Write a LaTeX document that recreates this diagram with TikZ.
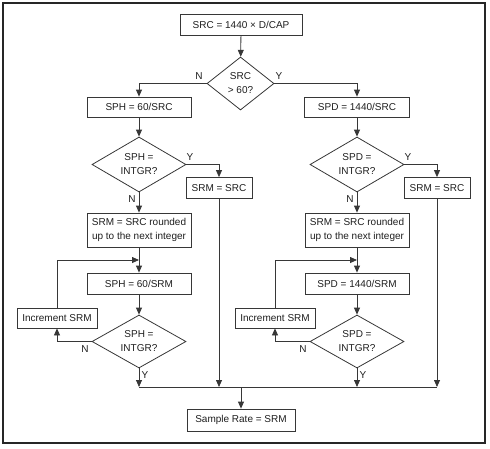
\documentclass[tikz,border=0pt]{standalone}
\usepackage{fontspec}
\setmainfont{Liberation Sans}
\usetikzlibrary{shapes.geometric,arrows.meta}
\definecolor{linec}{RGB}{55,55,55}
\definecolor{textc}{RGB}{30,30,30}
\begin{document}
\begin{tikzpicture}[x=1pt,y=-1pt,
  font=\fontsize{10}{14}\selectfont,
  procbox/.style={draw=linec, line width=0.8pt, inner sep=0pt, align=center, text=textc},
  decision/.style={diamond, draw=linec, line width=0.8pt, inner sep=0pt, align=center, text=textc, aspect=1.7},
  flow/.style={draw=linec, line width=0.8pt, -{Triangle[width=6pt,length=7pt]}},
  plain/.style={draw=linec, line width=0.8pt},
  lab/.style={text=textc, inner sep=0pt}]
\useasboundingbox (0,0) rectangle (490,448);
\draw[line width=1.2pt, black!85] (3,3) rectangle (485,443);
% nodes
\node[procbox, minimum width=122pt, minimum height=21pt] (top) at (241,25) {SRC = 1440 × D/CAP};
\node[decision, minimum width=67pt, minimum height=53pt] (d1) at (240.5,83.5) {SRC\\> 60?};
\node[procbox, minimum width=104pt, minimum height=20pt] (sph) at (139,107) {SPH = 60/SRC};
\node[procbox, minimum width=105pt, minimum height=20pt] (spd) at (357,107) {SPD = 1440/SRC};
\node[decision, minimum width=94pt, minimum height=55pt] (d2L) at (139,164.5) {SPH =\\INTGR?};
\node[decision, minimum width=94pt, minimum height=55pt] (d2R) at (357,164.5) {SPD =\\INTGR?};
\node[procbox, minimum width=66pt, minimum height=21pt] (srmL) at (219,188) {SRM = SRC};
\node[procbox, minimum width=66pt, minimum height=21pt] (srmR) at (437,188) {SRM = SRC};
\node[procbox, minimum width=104pt, minimum height=34pt] (rndL) at (139,230) {SRM = SRC rounded\\up to the next integer};
\node[procbox, minimum width=104pt, minimum height=34pt] (rndR) at (357,230) {SRM = SRC rounded\\up to the next integer};
\node[procbox, minimum width=104pt, minimum height=21pt] (sph2) at (139,283.5) {SPH = 60/SRM};
\node[procbox, minimum width=104pt, minimum height=21pt] (spd2) at (357,283.5) {SPD = 1440/SRM};
\node[procbox, minimum width=80pt, minimum height=20pt] (incL) at (57,318) {Increment SRM};
\node[procbox, minimum width=80pt, minimum height=20pt] (incR) at (275,318) {Increment SRM};
\node[decision, minimum width=94pt, minimum height=53pt] (d3L) at (139,341.5) {SPH =\\INTGR?};
\node[decision, minimum width=94pt, minimum height=53pt] (d3R) at (357,341.5) {SPD =\\INTGR?};
\node[procbox, minimum width=108pt, minimum height=22pt] (out) at (241,420) {Sample Rate = SRM};
% helper coordinates
\coordinate (bus) at (0,387);
\coordinate (loopL) at (139,260);
\coordinate (loopR) at (357,260);
% connectors
\draw[flow] (top) -- (d1);
\draw[flow] (d1.west) -| (sph.north);
\draw[flow] (d1.east) -| (spd.north);
\draw[flow] (sph) -- (d2L);
\draw[flow] (spd) -- (d2R);
\draw[flow] (d2L.east) -| (srmL.north);
\draw[flow] (d2R.east) -| (srmR.north);
\draw[flow] (d2L) -- (rndL);
\draw[flow] (d2R) -- (rndR);
\draw[flow] (rndL) -- (sph2);
\draw[flow] (rndR) -- (spd2);
\draw[flow] (sph2) -- (d3L);
\draw[flow] (spd2) -- (d3R);
\draw[flow] (d3L.west) -| (incL.south);
\draw[flow] (d3R.west) -| (incR.south);
\draw[flow] (incL.north) |- (loopL);
\draw[flow] (incR.north) |- (loopR);
\draw[flow] (d3L.south) -- (d3L.south |- bus);
\draw[flow] (srmL.south) -- (srmL.south |- bus);
\draw[flow] (d3R.south) -- (d3R.south |- bus);
\draw[flow] (srmR.south) -- (srmR.south |- bus);
\draw[plain] (d3L.south |- bus) -- (srmR.south |- bus);
\draw[flow] (out.north |- bus) -- (out.north);
% labels
\node[lab] (n1) at (199,76) {N};
\node[lab] (y1) at (279,76) {Y};
\node[lab] (y2L) at (190,157) {Y};
\node[lab] (n2L) at (132,199) {N};
\node[lab] (y2R) at (408,157) {Y};
\node[lab] (n2R) at (350,199) {N};
\node[lab] (n3L) at (85,349) {N};
\node[lab] (y3L) at (145,375) {Y};
\node[lab] (n3R) at (303,349) {N};
\node[lab] (y3R) at (363,375) {Y};
\end{tikzpicture}
\end{document}
